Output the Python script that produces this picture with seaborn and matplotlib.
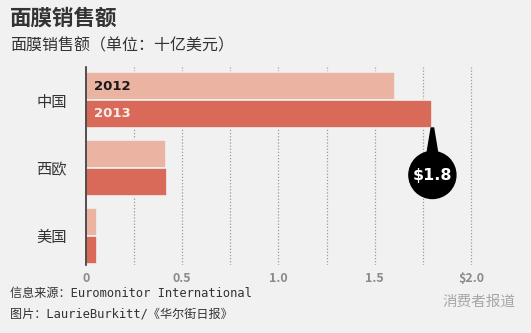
import matplotlib
matplotlib.use("Agg")
import matplotlib.pyplot as plt
import seaborn as sns
import pandas as pd
from matplotlib.patches import Circle, Polygon

categories = ["中国", "西欧", "美国"]
years = ["2012", "2013"]
values_2012 = [1.605, 0.415, 0.055]
values_2013 = [1.80, 0.42, 0.058]
xticks = [0, 0.5, 1.0, 1.5, 2.0]
xtick_labels = ["0", "0.5", "1.0", "1.5", "$2.0"]

df = pd.DataFrame({
    "region": categories * 2,
    "year": [years[0]] * 3 + [years[1]] * 3,
    "value": values_2012 + values_2013,
})

sns.set_theme(style="white")
CJK = ["Noto Sans CJK SC", "DejaVu Sans"]
plt.rcParams["font.family"] = CJK
bg = "#f1f1f1"

fig = plt.figure(figsize=(5.31, 3.33), dpi=100, facecolor=bg)
ax = fig.add_axes([0.162, 0.204, 0.761, 0.595])
ax.set_facecolor(bg)

pal = {"2012": "#eab3a2", "2013": "#d96a5a"}
sns.barplot(data=df, y="region", x="value", hue="year", order=categories,
            hue_order=years, palette=pal, orient="h", width=0.82,
            edgecolor=bg, linewidth=1.2, saturation=1, legend=False, ax=ax)

ax.set_xlim(0, 2.1)
ax.set_ylim(2.43, -0.49)
for gx in [0.25 * i for i in range(1, 9)]:
    ax.axvline(gx, color="#9a9a9a", linestyle=(0, (1, 1.5)), linewidth=0.9, zorder=0)

for s in ["top", "right", "bottom"]:
    ax.spines[s].set_visible(False)
ax.spines["left"].set_color("#333333")
ax.spines["left"].set_linewidth(1.2)

ax.set_xticks(xticks)
ax.set_xticklabels(xtick_labels, color="#8a8a8a", fontsize=9, fontweight="bold")
ax.tick_params(axis="x", length=0, pad=5)
ax.tick_params(axis="y", length=0, pad=14, labelsize=11, labelcolor="#333333")
ax.set_xlabel("")
ax.set_ylabel("")

# labels inside China bars
ax.text(0.04, -0.2, years[0], va="center", ha="left", fontsize=9.5, fontweight="bold",
        color="#1a1a1a", family=["DejaVu Sans"])
ax.text(0.04, 0.2, years[1], va="center", ha="left", fontsize=9.5, fontweight="bold",
        color="#fbeee9", family=["DejaVu Sans"])

# callout for $1.8
china13 = values_2013[0]
trans = ax.transData
x0, y0 = trans.transform((china13, 0.41))
cx, cy = x0, y0 - 47
circ = Circle((cx, cy), 23.5, transform=None, color="black", zorder=5, clip_on=False)
fig.patches.append(circ)
tri = Polygon([(x0 - 1.2, y0), (x0 + 1.2, y0), (x0 + 6, cy + 18), (x0 - 6, cy + 18)],
              closed=True, transform=None, color="black", zorder=5)
fig.patches.append(tri)
fig.text(cx / fig.dpi / fig.get_figwidth(), cy / fig.dpi / fig.get_figheight(),
         "$%.1f" % china13, ha="center", va="center", color="white",
         fontsize=11.5, fontweight="bold", family=["DejaVu Sans"], zorder=6)

# titles
fig.text(0.019, 0.945, "面膜销售额", fontsize=15.5, fontweight="bold", color="#333333",
         ha="left", va="center")
fig.text(0.019, 0.862, "面膜销售额（单位：十亿美元）", fontsize=11.5, color="#333333",
         ha="left", va="center")

# footer
mono = ["DejaVu Sans Mono", "Noto Sans CJK SC"]
fig.text(0.019, 0.118, "信息来源：Euromonitor International", fontsize=8.7,
         color="#333333", ha="left", va="center", family=mono)
fig.text(0.019, 0.058, "图片：LaurieBurkitt/《华尔街日报》", fontsize=8.7,
         color="#333333", ha="left", va="center", family=mono)
fig.text(0.97, 0.095, "消费者报道", fontsize=10.5, color="#888888", alpha=0.7,
         ha="right", va="center")

fig.savefig("out.png", dpi=100, facecolor=bg)
